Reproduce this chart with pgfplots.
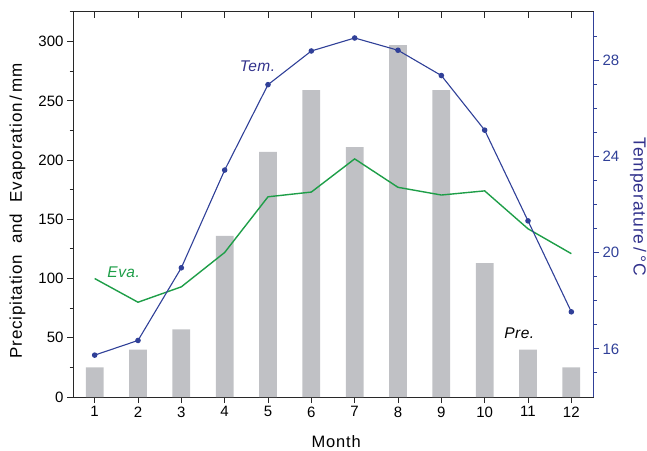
\documentclass[border=0pt]{standalone}
\usepackage{fontspec}
\setmainfont{Liberation Sans}
\newfontfamily\labfont[LetterSpace=5]{Liberation Sans}
\newfontfamily\txtfont[LetterSpace=3]{Liberation Sans}
\usepackage{pgfplots}
\pgfplotsset{compat=1.18}
\definecolor{barg}{RGB}{192,193,197}
\definecolor{evag}{RGB}{30,158,72}
\definecolor{temb}{RGB}{48,64,152}
\definecolor{tlab}{RGB}{50,50,140}
\definecolor{axg}{RGB}{40,40,40}
\begin{document}
\begin{tikzpicture}
\pgfplotsset{
 base/.style={scale only axis, width=520pt, height=385pt, xmin=0.5, xmax=12.5,
  font=\fontsize{15}{17}\selectfont,
  /pgf/number format/assume math mode=true,
  axis line style={line width=1pt},
  every tick/.style={line width=1pt},
  major tick length=6pt, minor tick length=3.5pt}
}
\begin{axis}[base,
  ymin=0, ymax=325,
  xtick={1,...,12},
  ytick={0,50,...,300}, minor ytick={25,75,...,325},
  xtick pos=bottom, ytick pos=left, tick align=outside,
  axis line style={line width=1pt, color=axg},
  every tick/.style={line width=1pt, color=axg},
  xlabel={Month},
  ylabel={Precipitation\ \ and\ \ Evaporation\,/\,mm},
  xlabel style={at={(axis description cs:0.506,-0.117)}, anchor=center, font=\labfont\fontsize{16.5}{18}\selectfont},
  ylabel style={at={(axis description cs:-0.107,0.483)}, anchor=center, font=\labfont\fontsize{17}{19}\selectfont},
]
\addplot[ybar, bar width=17.7pt, bar shift=0pt, fill=barg, draw=none] coordinates {
 (1,25) (2,40) (3,57) (4,136) (5,207) (6,259) (7,211) (8,297) (9,259) (10,113) (11,40) (12,25)};
\addplot[evag, line width=1.4pt, mark=none] coordinates {
 (1,100) (2,80) (3,93) (4,122) (5,169) (6,173) (7,201) (8,177) (9,170.5) (10,174) (11,142) (12,121)};
\node[evag, font=\txtfont\itshape\fontsize{15.5}{18}\selectfont] at (axis cs:1.67,105) {Eva.};
\node[tlab, anchor=east, inner sep=0pt, font=\txtfont\itshape\fontsize{15.5}{18}\selectfont] at (axis cs:5.17,279) {Tem.};
\node[black, font=\txtfont\itshape\fontsize{15.5}{18}\selectfont] at (axis cs:10.8,54) {Pre.};
\coordinate (SW) at (axis description cs:0,0);
\coordinate (NE) at (axis description cs:1,1);
\end{axis}
\begin{axis}[base,
  xtick={1,...,12}, xticklabels={}, xtick pos=top, tick align=inside,
  ytick=\empty, ymin=0, ymax=1,
  axis line style={draw=none},
  every tick/.style={line width=1pt, color=axg},
]
\end{axis}
\begin{axis}[base,
  ymin=14, ymax=30,
  axis y line*=right, axis x line=none,
  ytick={16,20,24,28}, minor ytick={15,17,18,19,21,22,23,25,26,27,29},
  tick align=outside,
  axis line style={line width=1pt, color=temb},
  every tick/.style={line width=1pt, color=temb},
  yticklabel style={color=temb},
  ylabel={Temperature\,/\,°C},
  ylabel style={at={(axis description cs:1.087,0.494)}, anchor=center, rotate=180, color=tlab, font=\labfont\fontsize{17.5}{19}\selectfont},
]
\addplot[temb, line width=1.1pt, mark=*, mark size=2.2pt] coordinates {
 (1,15.74) (2,16.35) (3,19.37) (4,23.43) (5,26.98) (6,28.38) (7,28.92) (8,28.41) (9,27.36) (10,25.09) (11,21.32) (12,17.54)};
\end{axis}
\pgfresetboundingbox
\path ([shift={(-73pt,-53pt)}]SW) rectangle ([shift={(54pt,12pt)}]NE);
\end{tikzpicture}
\end{document}
